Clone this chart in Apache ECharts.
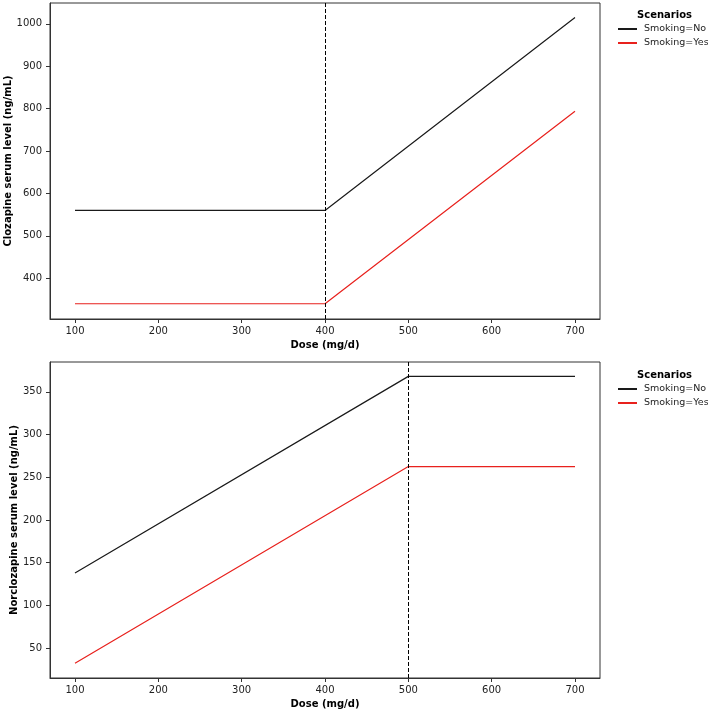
<!DOCTYPE html>
<html>
<head>
<meta charset="utf-8">
<script src="https://cdn.jsdelivr.net/npm/echarts@6/dist/echarts.min.js"></script>
<style>
  html, body { margin: 0; padding: 0; background: #fff; }
  #chart { width: 708px; height: 712px; }
</style>
</head>
<body>
<div id="chart"></div>
<script>
// dose breakpoints (mg/d)
const cloDose = [100, 400, 700];
const cloNo = [560, 560, 1015];
const cloYes = [340, 340, 794];

const norDose = [100, 500, 700];
const norNo = [138, 368, 368];
const norYes = [32.5, 262.5, 262.5];

const doseTicks = [100, 200, 300, 400, 500, 600, 700];
const cloTicks = [400, 500, 600, 700, 800, 900, 1000];
const norTicks = [50, 100, 150, 200, 250, 300, 350];

const cloCut = 400;
const norCut = 500;

const BLACK = '#1a1a1a';
const RED = '#e8211d';
const FONT = '"DejaVu Sans", sans-serif';

const pairs = (xs, ys) => xs.map((x, i) => [x, ys[i]]);
const plain = v => String(v);

function xAxisCfg(idx) {
  return {
    type: 'value', gridIndex: idx, min: 70, max: 730,
    name: 'Dose (mg/d)', nameLocation: 'middle', nameGap: 21, nameMoveOverlap: false,
    nameTextStyle: { fontFamily: FONT, fontSize: 10, fontWeight: 'bold', color: '#000' },
    axisLine: { show: true, onZero: false, lineStyle: { color: '#333', width: 1 } },
    axisTick: { show: true, length: 4, customValues: doseTicks, lineStyle: { color: '#333' } },
    axisLabel: { customValues: doseTicks, formatter: plain, fontFamily: FONT, fontSize: 10, color: '#222', margin: 7 },
    splitLine: { show: false }
  };
}

function yAxisCfg(idx, min, max, ticks, name, gap) {
  return {
    type: 'value', gridIndex: idx, min: min, max: max,
    name: name, nameLocation: 'middle', nameGap: gap, nameRotate: 90, nameMoveOverlap: false,
    nameTextStyle: { fontFamily: FONT, fontSize: 10, fontWeight: 'bold', color: '#000' },
    axisLine: { show: true, lineStyle: { color: '#333', width: 1 } },
    axisTick: { show: true, length: 4, customValues: ticks, lineStyle: { color: '#333' } },
    axisLabel: { customValues: ticks, formatter: plain, fontFamily: FONT, fontSize: 10, color: '#222', margin: 8 },
    splitLine: { show: false }
  };
}

function lineSeries(name, data, color, xi, cut) {
  const s = {
    name: name, type: 'line', xAxisIndex: xi, yAxisIndex: xi,
    data: data, showSymbol: false, symbol: 'none',
    lineStyle: { color: color, width: 1.2 }, itemStyle: { color: color },
    animation: false
  };
  if (cut != null) {
    s.markLine = {
      silent: true, symbol: ['none', 'none'], label: { show: false },
      lineStyle: { color: '#000', type: [4, 2], width: 1 },
      data: [{ xAxis: cut }]
    };
  }
  return s;
}

function legendCfg(top) {
  return {
    orient: 'vertical', left: 618, top: top, itemGap: 2, padding: 0,
    itemWidth: 19, itemHeight: 2, icon: 'rect',
    textStyle: { fontFamily: FONT, fontSize: 9.5, lineHeight: 12, color: '#222', width: 80, overflow: 'none', padding: [0, 0, 0, 2] },
    data: ['Smoking=No', 'Smoking=Yes']
  };
}

const chart = echarts.init(document.getElementById('chart'), null, { renderer: 'canvas' });
chart.setOption({
  backgroundColor: '#fff',
  animation: false,
  title: [
    { text: 'Scenarios', left: 632, top: 5, textStyle: { fontFamily: FONT, fontSize: 10, fontWeight: 'bold', color: '#000' } },
    { text: 'Scenarios', left: 632, top: 365, textStyle: { fontFamily: FONT, fontSize: 10, fontWeight: 'bold', color: '#000' } }
  ],
  legend: [legendCfg(23), legendCfg(383)],
  grid: [
    { left: 50, top: 3, width: 550, height: 316, show: true, borderColor: '#333', borderWidth: 1, containLabel: false, outerBoundsMode: 'none' },
    { left: 50, top: 362, width: 550, height: 316, show: true, borderColor: '#333', borderWidth: 1, containLabel: false, outerBoundsMode: 'none' }
  ],
  xAxis: [xAxisCfg(0), xAxisCfg(1)],
  yAxis: [
    yAxisCfg(0, 304, 1049, cloTicks, 'Clozapine serum level (ng/mL)', 37),
    yAxisCfg(1, 15.2, 384.8, norTicks, 'Norclozapine serum level (ng/mL)', 31)
  ],
  series: [
    lineSeries('Smoking=No', pairs(cloDose, cloNo), BLACK, 0, cloCut),
    lineSeries('Smoking=Yes', pairs(cloDose, cloYes), RED, 0, null),
    lineSeries('Smoking=No', pairs(norDose, norNo), BLACK, 1, norCut),
    lineSeries('Smoking=Yes', pairs(norDose, norYes), RED, 1, null)
  ]
});
</script>
</body>
</html>
